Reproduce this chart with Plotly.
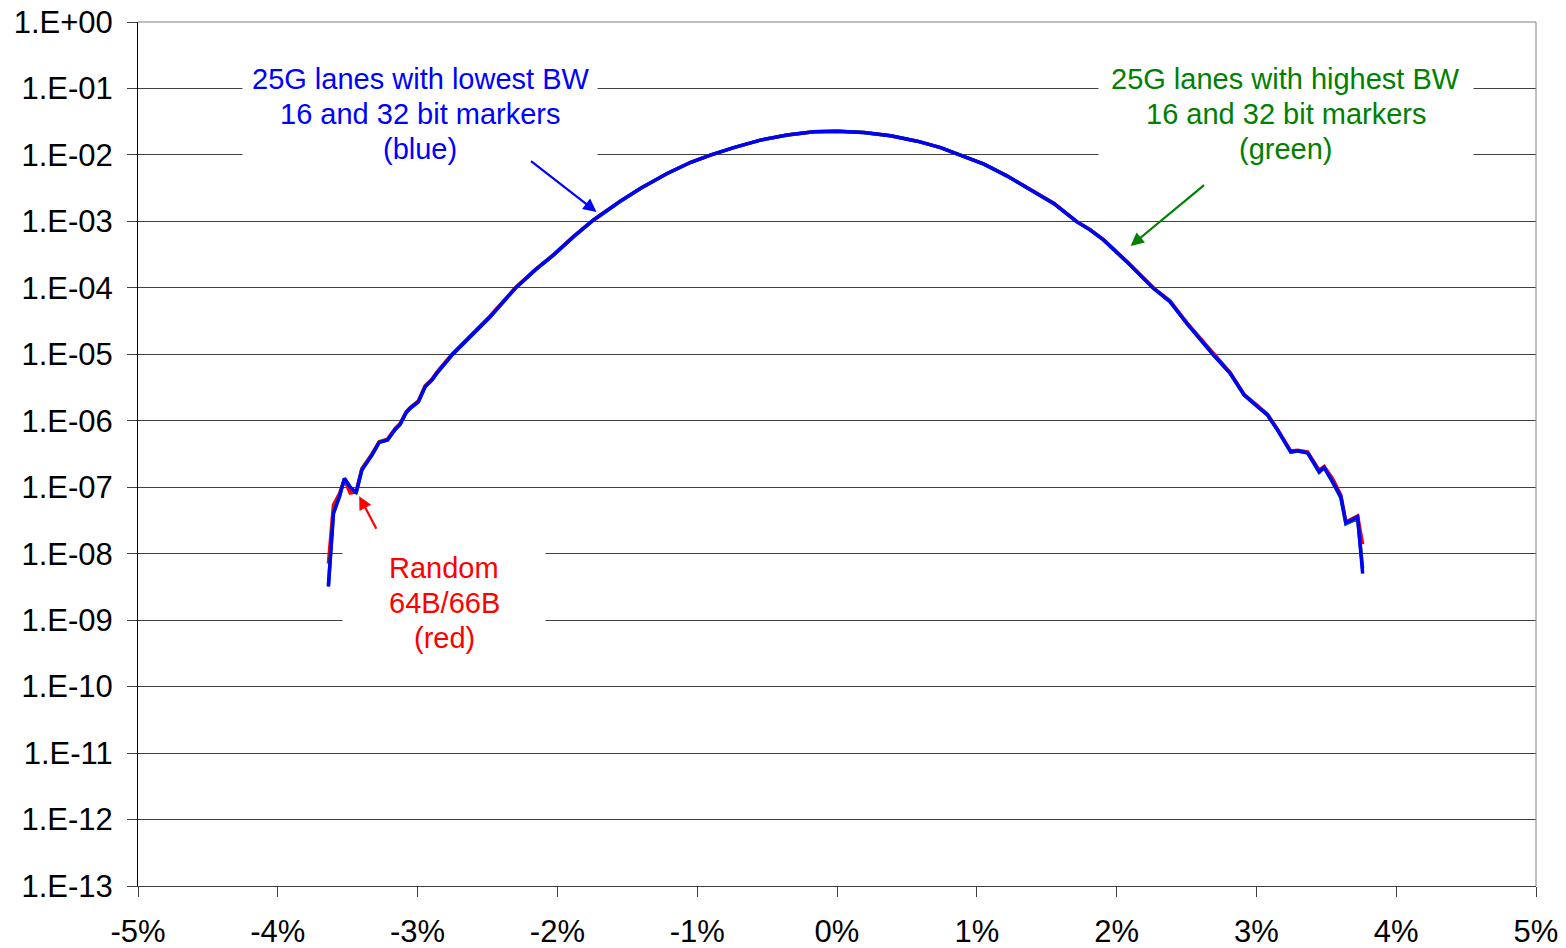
import plotly.graph_objects as go

# x offset in percent
x_pct = [-3.638, -3.602, -3.559, -3.523, -3.483, -3.440, -3.399, -3.327, -3.275, -3.215,
         -3.160, -3.125, -3.082, -3.053, -2.994, -2.946, -2.898, -2.862, -2.754, -2.552,
         -2.480, -2.301, -2.158, -2.027, -1.884, -1.741,
         -1.550, -1.407, -1.215, -1.049, -0.906, -0.739, -0.548, -0.356, -0.166, 0.001,
         0.192, 0.383, 0.574, 0.741, 0.884, 1.051, 1.218, 1.385, 1.552,
         1.714, 1.810, 1.906, 2.072, 2.263, 2.382, 2.502, 2.573, 2.693, 2.812,
         2.912, 3.008, 3.079, 3.151, 3.246, 3.294, 3.366, 3.449, 3.485, 3.545,
         3.604, 3.640, 3.724, 3.760]

# 25G lanes with lowest BW, 16 and 32 bit markers (blue)
blue_y = [3.2e-9, 4.0e-8, 7.2e-8, 1.36e-7, 1.01e-7, 8.2e-8, 1.81e-7, 3.04e-7, 4.73e-7, 5.12e-7,
          7.4e-7, 8.8e-7, 1.32e-6, 1.54e-6, 1.93e-6, 3.25e-6, 4.1e-6, 5.2e-6, 9.75e-6, 2.6e-5,
          3.68e-5, 9.86e-5, 1.86e-4, 3.13e-4, 5.9e-4, 1.05e-3,
          2.01e-3, 3.12e-3, 5.25e-3, 7.69e-3, 9.93e-3, 1.29e-2, 1.67e-2, 1.99e-2, 2.23e-2, 2.28e-2,
          2.17e-2, 1.94e-2, 1.61e-2, 1.29e-2, 9.93e-3, 7.27e-3, 4.80e-3, 3.01e-3, 1.85e-3,
          9.9e-4, 7.45e-4, 5.26e-4, 2.48e-4, 9.86e-5, 6.2e-5, 2.93e-5, 1.95e-5, 9.75e-6, 5.18e-6,
          2.44e-6, 1.63e-6, 1.22e-6, 7.24e-7, 3.41e-7, 3.53e-7, 3.30e-7, 1.71e-7, 1.99e-7, 1.21e-7,
          7.2e-8, 2.91e-8, 3.58e-8, 5.0e-9]

# 25G lanes with highest BW, 16 and 32 bit markers (green)
green_y = [3.4e-9, 4.2e-8, 7.4e-8, 1.36e-7, 1.0e-7, 8.3e-8, 1.83e-7, 3.06e-7, 4.75e-7, 5.15e-7,
           7.5e-7, 8.9e-7, 1.33e-6, 1.55e-6, 1.95e-6, 3.27e-6, 4.1e-6, 5.2e-6, 9.8e-6, 2.6e-5,
           3.7e-5, 9.9e-5, 1.86e-4, 3.14e-4, 5.9e-4, 1.05e-3,
           2.01e-3, 3.12e-3, 5.25e-3, 7.69e-3, 9.93e-3, 1.29e-2, 1.67e-2, 1.99e-2, 2.23e-2, 2.28e-2,
           2.17e-2, 1.94e-2, 1.61e-2, 1.29e-2, 9.93e-3, 7.27e-3, 4.80e-3, 3.01e-3, 1.85e-3,
           9.9e-4, 7.45e-4, 5.26e-4, 2.48e-4, 9.9e-5, 6.2e-5, 2.95e-5, 1.96e-5, 9.8e-6, 5.2e-6,
           2.45e-6, 1.64e-6, 1.23e-6, 7.3e-7, 3.35e-7, 3.5e-7, 3.28e-7, 1.68e-7, 1.97e-7, 1.18e-7,
           6.9e-8, 2.8e-8, 3.4e-8, 6.0e-9]

# Random 64B/66B (red)
red_y = [7.1e-9, 5.4e-8, 8.0e-8, 1.30e-7, 8.2e-8, 8.5e-8, 1.90e-7, 3.15e-7, 4.85e-7, 5.3e-7,
         7.7e-7, 9.1e-7, 1.36e-6, 1.58e-6, 2.0e-6, 3.35e-6, 4.2e-6, 5.4e-6, 1.0e-5, 2.7e-5,
         3.8e-5, 1.0e-4, 1.88e-4, 3.16e-4, 5.95e-4, 1.06e-3,
         2.02e-3, 3.13e-3, 5.26e-3, 7.7e-3, 9.95e-3, 1.29e-2, 1.67e-2, 1.99e-2, 2.23e-2, 2.28e-2,
         2.17e-2, 1.94e-2, 1.61e-2, 1.29e-2, 9.95e-3, 7.3e-3, 4.83e-3, 3.03e-3, 1.87e-3,
         1.0e-3, 7.55e-4, 5.33e-4, 2.52e-4, 1.0e-4, 6.4e-5, 3.0e-5, 2.0e-5, 1.0e-5, 5.3e-6,
         2.5e-6, 1.68e-6, 1.26e-6, 7.5e-7, 3.5e-7, 3.6e-7, 3.4e-7, 1.8e-7, 2.05e-7, 1.35e-7,
         7.6e-8, 3.0e-8, 3.7e-8, 1.39e-8]

x_ticks = [-5, -4, -3, -2, -1, 0, 1, 2, 3, 4, 5]
x_labels = ["-5%", "-4%", "-3%", "-2%", "-1%", "0%", "1%", "2%", "3%", "4%", "5%"]
y_exps = list(range(0, -14, -1))
y_ticks = [10.0 ** e for e in y_exps]
y_labels = ["1.E+00" if e == 0 else "1.E-%02d" % (-e) for e in y_exps]

blue_lines = ["25G lanes with lowest BW", "16 and 32 bit markers", "(blue)"]
green_lines = ["25G lanes with highest BW", "16 and 32 bit markers", "(green)"]
red_lines = ["Random", "64B/66B", "(red)"]

FONT = "Liberation Sans, Arial, sans-serif"
TICK_SIZE = 31
NOTE_SIZE = 29

fig = go.Figure()
fig.add_trace(go.Scatter(x=x_pct, y=red_y, mode="lines",
                         line=dict(color="#FF0000", width=3.5), name="Random 64B/66B"))
fig.add_trace(go.Scatter(x=x_pct, y=green_y, mode="lines",
                         line=dict(color="#008000", width=3.5), name="Highest BW"))
fig.add_trace(go.Scatter(x=x_pct, y=blue_y, mode="lines",
                         line=dict(color="#0000FF", width=3.5), name="Lowest BW"))

fig.update_layout(
    width=1566, height=948,
    margin=dict(l=138, r=30, t=22, b=62),
    paper_bgcolor="white", plot_bgcolor="white",
    showlegend=False,
    font=dict(family=FONT, size=TICK_SIZE, color="black"),
    xaxis=dict(range=[-5, 5], tickvals=x_ticks, ticktext=x_labels, automargin=False,
               showgrid=False, zeroline=False, showline=True, linecolor="#404040", linewidth=1,
               ticks="outside", ticklen=10, tickcolor="#404040",
               tickfont=dict(family=FONT, size=TICK_SIZE, color="black"), ticklabelstandoff=8),
    yaxis=dict(type="log", range=[-13, 0], tickvals=y_ticks, ticktext=y_labels, automargin=False,
               showgrid=True, gridcolor="#404040", gridwidth=1, zeroline=False,
               showline=True, linecolor="black", linewidth=1,
               ticks="outside", ticklen=10, tickcolor="#404040",
               tickfont=dict(family=FONT, size=TICK_SIZE, color="black"), ticklabelstandoff=8),
)

# plot frame (top and right)
fig.add_shape(type="line", xref="paper", yref="paper", x0=0, x1=1, y0=1, y1=1,
              line=dict(color="#808080", width=1))
fig.add_shape(type="line", xref="paper", yref="paper", x0=1, x1=1, y0=0, y1=1,
              line=dict(color="#808080", width=1))


def text_box(xc, yc, w, h, lines, ys, color):
    # white background box
    fig.add_annotation(x=xc, y=yc, xref="x", yref="y", text=" ", showarrow=False,
                       bgcolor="white", width=w, height=h, borderpad=0,
                       font=dict(family=FONT, size=NOTE_SIZE))
    for t, yy in zip(lines, ys):
        fig.add_annotation(x=xc, y=yy, xref="x", yref="y", text=t, showarrow=False,
                           font=dict(family=FONT, size=NOTE_SIZE, color=color))


text_box(-2.981, -1.396, 354, 110, blue_lines, [-0.854, -1.381, -1.916], "#0000FF")
text_box(3.210, -1.396, 374, 110, green_lines, [-0.854, -1.381, -1.916], "#008000")
text_box(-2.810, -8.745, 202, 110, red_lines, [-8.218, -8.745, -9.273], "#FF0000")

# arrows
fig.add_annotation(x=-1.72, y=-2.857, xref="x", yref="y", text="", showarrow=True,
                   ax=-67, ay=-52, arrowhead=2, arrowsize=1.2, arrowwidth=2.2,
                   arrowcolor="#0000FF", standoff=0)
fig.add_annotation(x=2.10, y=-3.369, xref="x", yref="y", text="", showarrow=True,
                   ax=75, ay=-62, arrowhead=2, arrowsize=1.2, arrowwidth=2.2,
                   arrowcolor="#008000", standoff=0)
fig.add_annotation(x=-3.418, y=-7.134, xref="x", yref="y", text="", showarrow=True,
                   ax=18, ay=34, arrowhead=2, arrowsize=1.2, arrowwidth=2.2,
                   arrowcolor="#FF0000", standoff=0)

fig.write_html("out.html")
